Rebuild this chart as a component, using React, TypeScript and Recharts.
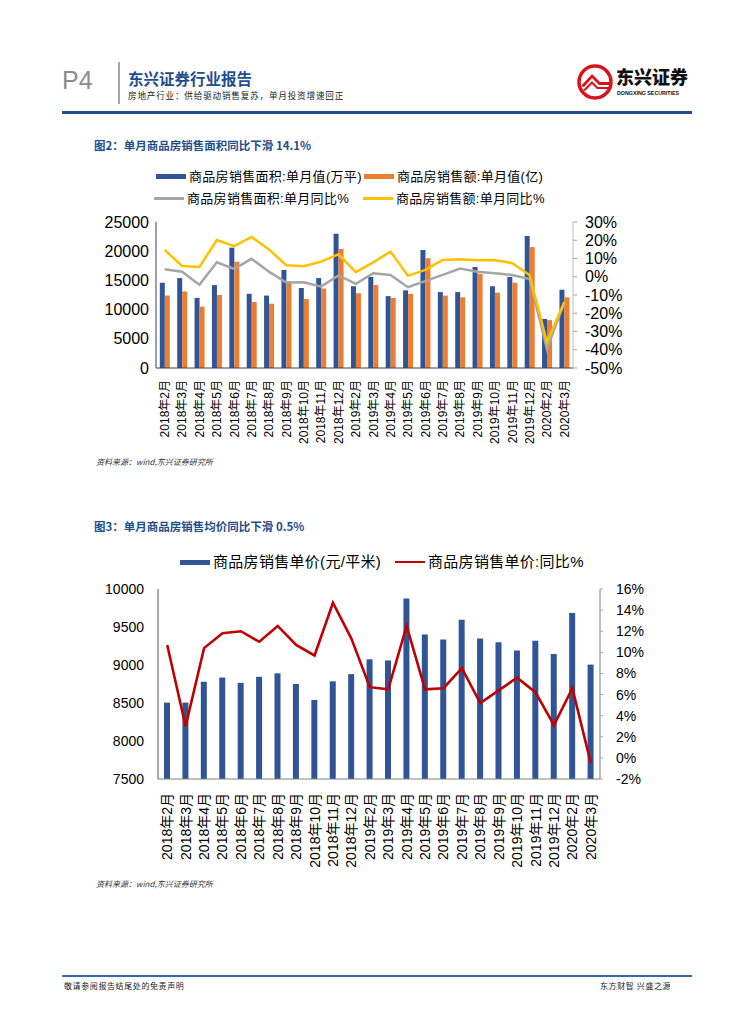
import { Bar, ComposedChart, Line, XAxis, YAxis } from 'recharts'

const FONT = '"Liberation Sans", Arial, "Noto Sans CJK SC", sans-serif'
const CJK = '"Noto Sans CJK SC", "Liberation Sans", sans-serif'
const TITLE_BLUE = '#1F4E8C'

const months = [
  '2018年2月', '2018年3月', '2018年4月', '2018年5月', '2018年6月', '2018年7月',
  '2018年8月', '2018年9月', '2018年10月', '2018年11月', '2018年12月',
  '2019年2月', '2019年3月', '2019年4月', '2019年5月', '2019年6月', '2019年7月',
  '2019年8月', '2019年9月', '2019年10月', '2019年11月', '2019年12月',
  '2020年2月', '2020年3月',
]

// 图2
const areaMonthly = [
  14600, 15400, 12000, 14200, 20600, 12700, 12400, 16800, 13700, 15400, 23000,
  14000, 15600, 12300, 13300, 20200, 13000, 13000, 17300, 14000, 15600, 22600,
  8400, 13400,
]
const amountMonthly = [
  12400, 13100, 10500, 12500, 18200, 11300, 11000, 14800, 11800, 13600, 20400,
  12800, 14200, 12000, 12700, 18800, 12400, 12100, 16100, 12900, 14600, 20700,
  8200, 12100,
]
const areaYoy = [
  4.1, 2.8, -4.4, 7.9, 4.3, 9.8, 2.8, -3.2, -3.0, -5.4, 0.7,
  -3.9, 1.9, 1.0, -5.7, -2.4, 1.0, 4.5, 2.8, 1.9, 1.0, -1.2,
  -39.6, -14.1,
]
const amountYoy = [
  14.7, 5.9, 5.4, 20.1, 16.8, 21.8, 15.0, 6.3, 5.8, 8.3, 12.3,
  2.5, 7.9, 13.8, 0.5, 3.8, 9.2, 9.6, 9.0, 9.2, 7.4, 1.0,
  -35.9, -13.9,
]
const leftTicks1 = [0, 5000, 10000, 15000, 20000, 25000]
const rightTicks1 = [-50, -40, -30, -20, -10, 0, 10, 20, 30]

// 图3
const priceMonthly = [
  8505, 8505, 8780, 8835, 8765, 8845, 8890, 8750, 8540, 8785, 8880,
  9075, 9060, 9875, 9400, 9335, 9595, 9350, 9300, 9190, 9320, 9145,
  9685, 9005,
]
const priceYoy = [
  10.7, 3.0, 10.4, 11.8, 12.0, 11.0, 12.5, 10.7, 9.7, 14.7, 11.3,
  6.7, 6.5, 12.5, 6.5, 6.6, 8.5, 5.2, 6.4, 7.6, 6.2, 3.1,
  6.6, -0.5,
]
const leftTicks2 = [7500, 8000, 8500, 9000, 9500, 10000]
const rightTicks2 = [-2, 0, 2, 4, 6, 8, 10, 12, 14, 16]

const data1 = months.map((m, i) => ({
  month: m,
  area: areaMonthly[i],
  amount: amountMonthly[i],
  areaYoy: areaYoy[i],
  amountYoy: amountYoy[i],
}))

const data2 = months.map((m, i) => ({
  month: m,
  price: priceMonthly[i],
  priceYoy: priceYoy[i],
}))

function VTick(props: any) {
  const { x, y, payload, gap, size } = props
  const ty = y + gap
  return (
    <text
      x={x}
      y={ty}
      transform={`rotate(-90 ${x} ${ty})`}
      textAnchor="end"
      dy="0.36em"
      fontSize={size}
      fill="#000"
      fontFamily={FONT}
    >
      {payload.value}
    </text>
  )
}

function Swatch({ kind, color }: { kind: 'bar' | 'line'; color: string }) {
  return (
    <span
      style={{
        display: 'inline-block',
        width: 30,
        height: kind === 'bar' ? 5 : 2.5,
        background: color,
        verticalAlign: 'middle',
        marginRight: 3,
      }}
    />
  )
}

function LegendItem(props: {
  left: number
  top: number
  kind: 'bar' | 'line'
  color: string
  label: string
  size: number
}) {
  return (
    <div
      style={{
        position: 'absolute',
        left: props.left,
        top: props.top,
        height: 18,
        lineHeight: '18px',
        fontSize: props.size,
        fontFamily: FONT,
        color: '#000',
        whiteSpace: 'nowrap',
        letterSpacing: 0.3,
      }}
    >
      <Swatch kind={props.kind} color={props.color} />
      <span style={{ verticalAlign: 'middle' }}>{props.label}</span>
    </div>
  )
}

function Logo() {
  return (
    <div style={{ position: 'absolute', left: 576, top: 62 }}>
      <svg width={40} height={40}>
        <circle cx={19} cy={20} r={16} fill="#fff" stroke="#D7141A" strokeWidth={3.5} />
        <path d="M5 24 L16 12 L24 20 L34 20 L34 23 L23 23 L16 16 L8 25 Z" fill="#D7141A" />
        <path d="M7 28 L16 19 L22 25 L33 25 L33 27 L21 27 L16 22 L9 29 Z" fill="#D7141A" />
      </svg>
      <div
        style={{
          position: 'absolute',
          left: 40,
          top: 4,
          fontFamily: CJK,
          fontWeight: 900,
          fontSize: 18,
          lineHeight: '20px',
          color: '#111',
          whiteSpace: 'nowrap',
        }}
      >
        东兴证券
      </div>
      <div
        style={{
          position: 'absolute',
          left: 41,
          top: 28,
          fontFamily: FONT,
          fontWeight: 700,
          fontSize: 5.3,
          lineHeight: '6px',
          color: '#111',
          whiteSpace: 'nowrap',
        }}
      >
        DONGXING SECURITIES
      </div>
    </div>
  )
}

function SalesChart() {
  return (
    <div style={{ position: 'absolute', left: 0, top: 210 }}>
      <ComposedChart
        width={640}
        height={260}
        data={data1}
        margin={{ top: 12, right: 10, bottom: 12, left: 95 }}
        barCategoryGap="22%"
        barGap={0}
      >
        <XAxis
          dataKey="month"
          interval={0}
          height={90}
          tickSize={0}
          tickMargin={0}
          tickLine={false}
          axisLine={{ stroke: '#404040' }}
          tick={(p: any) => <VTick {...p} gap={12} size={12} />}
        />
        <YAxis
          yAxisId="l"
          width={61}
          domain={[0, 25000]}
          ticks={leftTicks1}
          interval={0}
          tickSize={0}
          tickMargin={7}
          tickLine={false}
          axisLine={{ stroke: '#404040' }}
          tick={{ fontSize: 16, fill: '#000', fontFamily: FONT }}
        />
        <YAxis
          yAxisId="r"
          orientation="right"
          width={57}
          domain={[-50, 30]}
          ticks={rightTicks1}
          interval={0}
          tickSize={4}
          tickMargin={8}
          tickLine={{ stroke: '#A6A6A6' }}
          axisLine={{ stroke: '#BFBFBF' }}
          tickFormatter={(v: number) => `${v}%`}
          tick={{ fontSize: 16, fill: '#000', fontFamily: FONT }}
        />
        <Bar yAxisId="l" dataKey="area" fill="#2F5597" isAnimationActive={false} />
        <Bar yAxisId="l" dataKey="amount" fill="#ED7D31" isAnimationActive={false} />
        <Line
          yAxisId="r"
          dataKey="areaYoy"
          stroke="#A5A5A5"
          strokeWidth={2.5}
          dot={false}
          isAnimationActive={false}
        />
        <Line
          yAxisId="r"
          dataKey="amountYoy"
          stroke="#FFC000"
          strokeWidth={2.5}
          dot={false}
          isAnimationActive={false}
        />
      </ComposedChart>
    </div>
  )
}

function PriceChart() {
  return (
    <div style={{ position: 'absolute', left: 0, top: 570 }}>
      <ComposedChart
        width={680}
        height={300}
        data={data2}
        margin={{ top: 19, right: 20, bottom: 11, left: 95 }}
      >
        <XAxis
          dataKey="month"
          interval={0}
          height={80}
          tickSize={0}
          tickMargin={0}
          tickLine={false}
          axisLine={{ stroke: '#808080' }}
          tick={(p: any) => <VTick {...p} gap={14} size={14} />}
        />
        <YAxis
          yAxisId="l"
          width={63}
          domain={[7500, 10000]}
          ticks={leftTicks2}
          interval={0}
          tickSize={0}
          tickMargin={14}
          tickLine={false}
          axisLine={{ stroke: '#595959' }}
          tick={{ fontSize: 14, fill: '#000', fontFamily: FONT }}
        />
        <YAxis
          yAxisId="r"
          orientation="right"
          width={60}
          domain={[-2, 16]}
          ticks={rightTicks2}
          interval={0}
          tickSize={3}
          tickMargin={13}
          tickLine={{ stroke: '#A6A6A6' }}
          axisLine={{ stroke: '#808080' }}
          tickFormatter={(v: number) => `${v}%`}
          tick={{ fontSize: 14, fill: '#000', fontFamily: FONT }}
        />
        <Bar yAxisId="l" dataKey="price" fill="#2F5597" barSize={6} isAnimationActive={false} />
        <Line
          yAxisId="r"
          dataKey="priceYoy"
          stroke="#C00000"
          strokeWidth={2.6}
          dot={false}
          isAnimationActive={false}
        />
      </ComposedChart>
    </div>
  )
}

const abs = (left: number, top: number, extra: any = {}) => ({
  position: 'absolute' as const,
  left,
  top,
  whiteSpace: 'nowrap' as const,
  ...extra,
})

export default function App() {
  return (
    <div
      style={{
        position: 'absolute',
        left: 0,
        top: 0,
        width: 755,
        height: 1024,
        background: '#fff',
        fontFamily: FONT,
        overflow: 'hidden',
      }}
    >
      {/* page header */}
      <div style={abs(62, 66, { fontSize: 25, lineHeight: '28px', color: '#8C8C8C', fontFamily: FONT })}>P4</div>
      <div style={abs(118, 62, { width: 1.5, height: 42, background: '#A6A6A6' })} />
      <div
        style={abs(128, 68, {
          fontSize: 15.5,
          lineHeight: '20px',
          fontWeight: 700,
          color: TITLE_BLUE,
          fontFamily: CJK,
        })}
      >
        东兴证券行业报告
      </div>
      <div style={abs(128, 89, { fontSize: 8.6, lineHeight: '12px', color: '#222', fontFamily: CJK, letterSpacing: 0.8 })}>
        房地产行业：供给驱动销售复苏，单月投资增速回正
      </div>
      <Logo />
      <div style={abs(62, 111, { width: 630, height: 3, background: TITLE_BLUE })} />

      {/* 图2 */}
      <div
        style={abs(94, 138, {
          fontSize: 11.5,
          lineHeight: '15px',
          fontWeight: 700,
          color: TITLE_BLUE,
          fontFamily: CJK,
        })}
      >
        图2：单月商品房销售面积同比下滑 14.1%
      </div>
      <LegendItem left={156} top={167} kind="bar" color="#2F5597" label="商品房销售面积:单月值(万平)" size={13} />
      <LegendItem left={364} top={167} kind="bar" color="#ED7D31" label="商品房销售额:单月值(亿)" size={13} />
      <LegendItem left={154} top={189} kind="line" color="#A5A5A5" label="商品房销售面积:单月同比%" size={13} />
      <LegendItem left={363} top={189} kind="line" color="#FFC000" label="商品房销售额:单月同比%" size={13} />
      <SalesChart />
      <div style={abs(96, 456, { fontSize: 8, lineHeight: '12px', color: '#333', fontStyle: 'italic', fontFamily: CJK })}>
        资料来源：wind,东兴证券研究所
      </div>

      {/* 图3 */}
      <div
        style={abs(94, 519, {
          fontSize: 11.5,
          lineHeight: '15px',
          fontWeight: 700,
          color: TITLE_BLUE,
          fontFamily: CJK,
        })}
      >
        图3：单月商品房销售均价同比下滑 0.5%
      </div>
      <LegendItem left={180} top={552} kind="bar" color="#2F5597" label="商品房销售单价(元/平米)" size={15} />
      <LegendItem left={395} top={552} kind="line" color="#C00000" label="商品房销售单价:同比%" size={15} />
      <PriceChart />
      <div style={abs(96, 878, { fontSize: 8, lineHeight: '12px', color: '#333', fontStyle: 'italic', fontFamily: CJK })}>
        资料来源：wind,东兴证券研究所
      </div>

      {/* footer */}
      <div style={abs(62, 975, { width: 630, height: 2, background: '#2E6BA8' })} />
      <div style={abs(64, 980, { fontSize: 8, lineHeight: '12px', color: '#222', fontFamily: CJK, letterSpacing: 0.6 })}>
        敬请参阅报告结尾处的免责声明
      </div>
      <div style={abs(600, 980, { fontSize: 8, lineHeight: '12px', color: '#222', fontFamily: CJK, letterSpacing: 0.6 })}>
        东方财智 兴盛之源
      </div>
    </div>
  )
}
